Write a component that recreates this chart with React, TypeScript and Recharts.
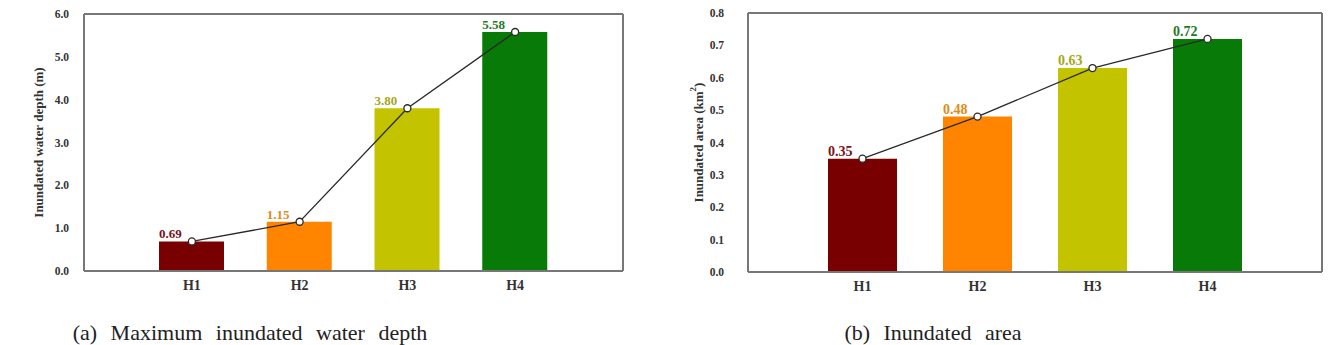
import { Bar, ComposedChart, Line, XAxis, YAxis, Cell, LabelList } from "recharts";

const scenarios = ["H1", "H2", "H3", "H4"];
const maxDepth = [0.69, 1.15, 3.8, 5.58];
const inundatedArea = [0.35, 0.48, 0.63, 0.72];
const depthTicks = [0, 1, 2, 3, 4, 5, 6];
const areaTicks = [0, 0.1, 0.2, 0.3, 0.4, 0.5, 0.6, 0.7, 0.8];

const barColors = ["#780000", "#ff8500", "#c3c300", "#087a08"];
const labelColors = ["#7a1020", "#e08a1a", "#a6a620", "#1f7a1f"];

const SERIF = "'Liberation Serif', 'Times New Roman', serif";
const FRAME = "#777";

interface PanelProps {
  values: number[];
  ticks: number[];
  yTitle: React.ReactNode;
  width: number;
  height: number;
  margin: { top: number; right: number; left: number; bottom: number };
  yAxisWidth: number;
  xAxisHeight: number;
  sidePad: number;
  barSize: number;
  tickMargin: number;
  titleX: number;
  labelSize: number;
}

function Panel(p: PanelProps) {
  const data = scenarios.map((name, i) => ({ name, value: p.values[i] }));
  const max = p.ticks[p.ticks.length - 1];

  const renderTitle = (props: any) => {
    const vb = props.viewBox;
    const cy = vb.y + vb.height / 2;
    return (
      <text
        x={p.titleX}
        y={cy}
        transform={`rotate(-90 ${p.titleX} ${cy})`}
        textAnchor="middle"
        dominantBaseline="central"
        fontFamily={SERIF}
        fontWeight="bold"
        fontSize={13}
        fill="#333"
      >
        {p.yTitle}
      </text>
    );
  };

  const renderValue = (props: any) => {
    const { x, y, value, index } = props;
    return (
      <text
        x={x}
        y={y - 3}
        textAnchor="start"
        fontFamily={SERIF}
        fontWeight="bold"
        fontSize={p.labelSize}
        fill={labelColors[index]}
      >
        {Number(value).toFixed(2)}
      </text>
    );
  };

  return (
    <ComposedChart width={p.width} height={p.height} data={data} margin={p.margin}>
      <XAxis
        dataKey="name"
        height={p.xAxisHeight}
        padding={{ left: p.sidePad, right: p.sidePad }}
        axisLine={{ stroke: FRAME, strokeWidth: 2 }}
        tickLine={false}
        tickMargin={3}
        tick={{ fontFamily: SERIF, fontWeight: "bold", fontSize: 14, fill: "#333" }}
      />
      {/* top and right axes only draw the frame */}
      <XAxis
        xAxisId="top"
        dataKey="name"
        orientation="top"
        height={1}
        padding={{ left: p.sidePad, right: p.sidePad }}
        axisLine={{ stroke: FRAME, strokeWidth: 2 }}
        tickLine={false}
        tick={false}
      />
      <YAxis
        width={p.yAxisWidth}
        domain={[0, max]}
        ticks={p.ticks}
        interval={0}
        tickFormatter={(v: number) => v.toFixed(1)}
        axisLine={{ stroke: FRAME, strokeWidth: 2 }}
        tickLine={false}
        tickMargin={p.tickMargin}
        tick={{ fontFamily: SERIF, fontWeight: "bold", fontSize: 11.5, fill: "#333" }}
        label={{ content: renderTitle }}
      />
      <YAxis
        yAxisId="right"
        orientation="right"
        width={1}
        domain={[0, max]}
        axisLine={{ stroke: FRAME, strokeWidth: 2 }}
        tickLine={false}
        tick={false}
      />
      <Bar dataKey="value" barSize={p.barSize} isAnimationActive={false}>
        {data.map((d, i) => (
          <Cell key={d.name} fill={barColors[i]} />
        ))}
        <LabelList dataKey="value" content={renderValue} />
      </Bar>
      <Line
        dataKey="value"
        stroke="#2a2a2a"
        strokeWidth={1.3}
        dot={{ r: 3.5, fill: "#fff", stroke: "#2a2a2a", strokeWidth: 1.3 }}
        activeDot={false}
        isAnimationActive={false}
      />
      <Line
        xAxisId="top"
        yAxisId="right"
        dataKey="value"
        stroke="none"
        dot={false}
        activeDot={false}
        legendType="none"
        isAnimationActive={false}
      />
    </ComposedChart>
  );
}

const captionStyle: React.CSSProperties = {
  position: "absolute",
  top: 320,
  fontFamily: SERIF,
  fontSize: 22,
  wordSpacing: 8,
  color: "#222",
  textAlign: "center",
  whiteSpace: "nowrap",
};

export default function App() {
  return (
    <div style={{ position: "absolute", left: 0, top: 0, width: 1331, height: 345, background: "#fff", overflow: "hidden" }}>
      <div style={{ position: "absolute", left: 0, top: 0 }}>
        <Panel
          values={maxDepth}
          ticks={depthTicks}
          yTitle="Inundated water depth (m)"
          width={665}
          height={300}
          margin={{ top: 13, right: 41, left: 0, bottom: 0 }}
          yAxisWidth={84}
          xAxisHeight={29}
          sidePad={54}
          barSize={65}
          tickMargin={9}
          titleX={38}
          labelSize={13}
        />
      </div>
      <div style={{ position: "absolute", left: 665, top: 0 }}>
        <Panel
          values={inundatedArea}
          ticks={areaTicks}
          yTitle={
            <>
              Inundated area (km
              <tspan dy={-5} fontSize={9}>2</tspan>
              <tspan dy={5}>)</tspan>
            </>
          }
          width={666}
          height={300}
          margin={{ top: 12, right: 8, left: 0, bottom: 0 }}
          yAxisWidth={83}
          xAxisHeight={28}
          sidePad={57}
          barSize={69}
          tickMargin={18}
          titleX={33}
          labelSize={14}
        />
      </div>
      <div style={{ ...captionStyle, left: 0, width: 500 }}>(a) Maximum inundated water depth</div>
      <div style={{ ...captionStyle, left: 683, width: 500 }}>(b) Inundated area</div>
    </div>
  );
}
